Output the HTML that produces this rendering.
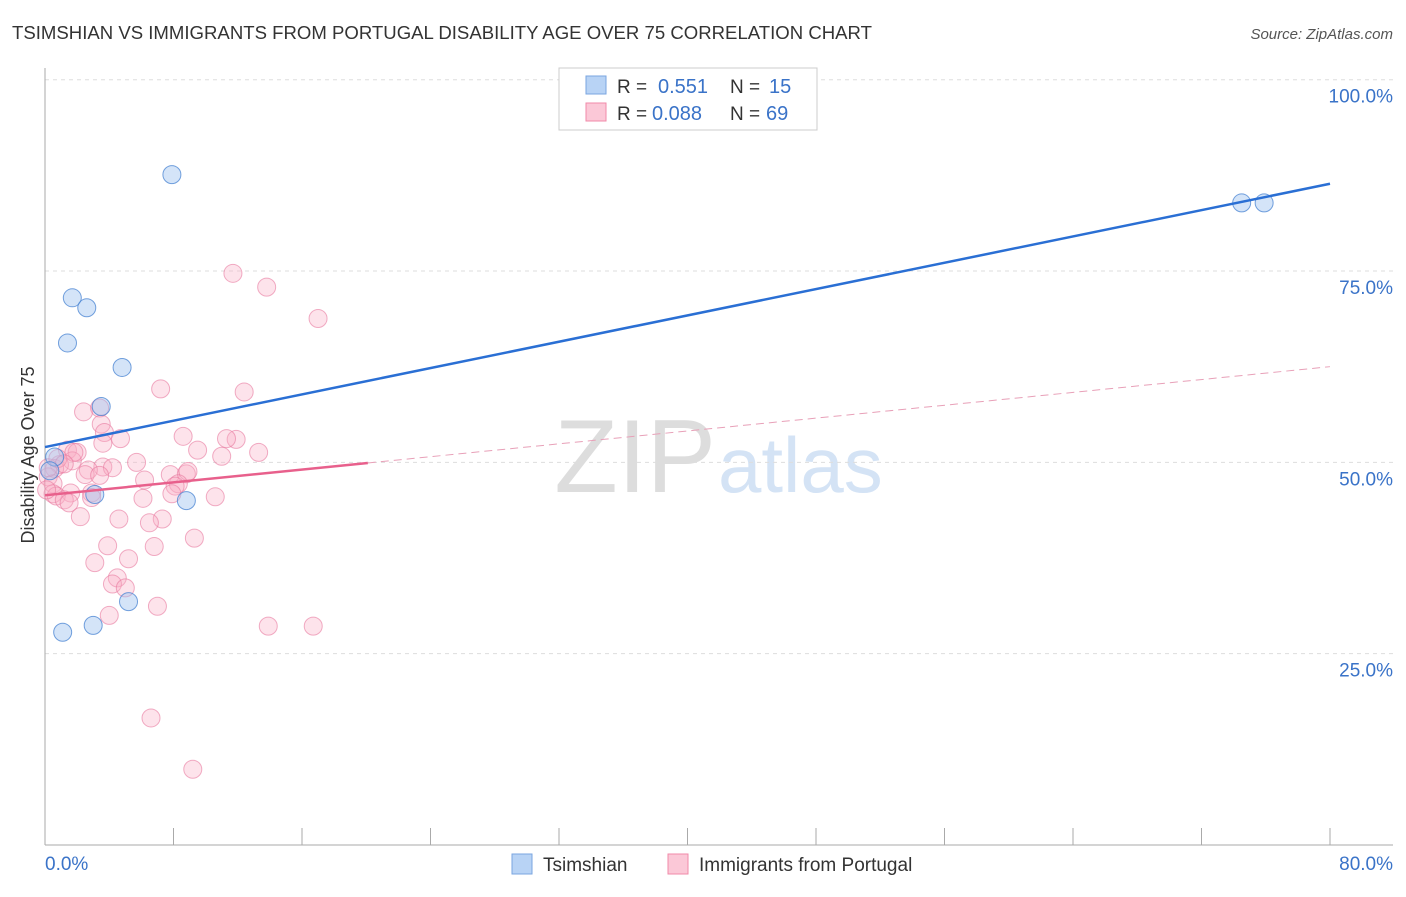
<!DOCTYPE html>
<html><head><meta charset="utf-8"><style>
body{margin:0;background:#fff;font-family:"Liberation Sans",sans-serif;}
svg text{font-family:"Liberation Sans",sans-serif;}
</style></head><body>
<svg id="c" width="1406" height="892" xmlns="http://www.w3.org/2000/svg">
<text x="12" y="39" font-size="18" fill="#333" textLength="860" lengthAdjust="spacingAndGlyphs">TSIMSHIAN VS IMMIGRANTS FROM PORTUGAL DISABILITY AGE OVER 75 CORRELATION CHART</text>
<text x="1393" y="39" font-size="15" fill="#555" font-style="italic" text-anchor="end">Source: ZipAtlas.com</text>
<text x="716" y="492" font-size="104" fill="#ddd" font-family="Liberation Serif" text-anchor="end">ZIP</text>
<text x="718" y="492" font-size="78" fill="#d4e3f5">atlas</text>
<g id="grid"></g>
<g id="axes"></g>
<g id="pink"></g>
<g id="blue"></g>
<g id="lines"></g>
<text transform="translate(34,455) rotate(-90)" font-size="18" fill="#333" text-anchor="middle">Disability Age Over 75</text>
<text x="45" y="870" font-size="19" fill="#3a73c8">0.0%</text>
<text x="1393" y="870" font-size="19" fill="#3a73c8" text-anchor="end">80.0%</text>
<g>
<rect x="559" y="68" width="258" height="62" fill="#fff" stroke="#ccc"/>
<rect x="586" y="76" width="20" height="18" fill="#b8d3f5" stroke="#7aa6e0"/>
<rect x="586" y="103" width="20" height="18" fill="#fbc8d7" stroke="#f08aa8"/>
<text x="617" y="93" font-size="19" fill="#333">R =</text>
<text x="658" y="93" font-size="20" fill="#3a73c8">0.551</text>
<text x="730" y="93" font-size="19" fill="#333">N =</text>
<text x="769" y="93" font-size="20" fill="#3a73c8">15</text>
<text x="617" y="120" font-size="19" fill="#333">R =</text>
<text x="652" y="120" font-size="20" fill="#3a73c8">0.088</text>
<text x="730" y="120" font-size="19" fill="#333">N =</text>
<text x="766" y="120" font-size="20" fill="#3a73c8">69</text>
</g>
<g>
<rect x="512" y="854" width="20" height="20" fill="#b8d3f5" stroke="#7aa6e0"/>
<text x="543" y="871" font-size="19" fill="#333">Tsimshian</text>
<rect x="668" y="854" width="20" height="20" fill="#fbc8d7" stroke="#f08aa8"/>
<text x="699" y="871" font-size="19" fill="#333">Immigrants from Portugal</text>
</g>
</svg>
<script>
const yTicks=[25,50,75,100];
const yTickLabels=["25.0%","50.0%","75.0%","100.0%"];
const blueX=[7.9,1.7,2.6,1.4,4.8,3.5,0.6,3.1,8.8,5.2,3.0,1.1,74.5,75.9,0.3];
const blueY=[87.6,71.5,70.2,65.6,62.4,57.3,50.7,45.8,45.0,31.8,28.7,27.8,83.9,83.9,48.9];
const pinkX=[11.7,13.8,17.0,7.2,12.4,2.4,3.4,3.5,3.7,4.7,8.6,11.9,11.3,13.3,9.5,11.0,1.4,2.0,1.7,5.7,3.6,4.2,2.7,0.9,0.6,0.2,0.5,2.5,3.4,6.2,7.8,8.8,8.9,8.3,8.1,7.9,2.9,2.9,1.6,0.5,0.7,1.2,1.5,6.1,10.6,2.2,4.6,7.3,6.5,9.3,3.9,6.8,5.2,3.1,4.5,4.2,5.0,4.0,7.0,13.9,16.7,6.6,9.2,0.2,0.8,1.8,3.6,0.1,1.2];
const pinkY=[74.7,72.9,68.8,59.6,59.2,56.6,57.1,55.0,53.9,53.1,53.4,53.0,53.1,51.3,51.6,50.8,51.6,51.3,50.2,50.0,49.4,49.3,49.0,49.7,49.2,48.1,47.2,48.4,48.3,47.7,48.4,48.5,48.8,47.2,46.9,45.9,46.0,45.4,46.0,45.9,45.6,45.1,44.7,45.3,45.5,42.9,42.6,42.6,42.1,40.1,39.1,39.0,37.4,36.9,34.9,34.1,33.6,30.0,31.2,28.6,28.6,16.6,9.9,49.3,50.5,51.3,52.5,46.4,49.8];
const blueFit=[52.0,86.4];
const pinkFit=[45.7,62.5];
const pinkSolidEnd=20.1;
const NS="http://www.w3.org/2000/svg";
const xs=v=>45+v*(1285/80);
const ys=v=>845-v*7.653;
function mk(tag,attrs,parent){const e=document.createElementNS(NS,tag);for(const k in attrs)e.setAttribute(k,attrs[k]);parent.appendChild(e);return e;}
const grid=document.getElementById('grid'),axes=document.getElementById('axes');
yTicks.forEach((t,i)=>{
 const l=mk('line',{x1:45,x2:1393,y1:ys(t),y2:ys(t),stroke:'#ddd','stroke-dasharray':'4,4'},grid);
 
 
 const tx=mk('text',{x:1393,y:ys(t)+23,'font-size':19,fill:'#3a73c8','text-anchor':'end'},grid);
 tx.textContent=yTickLabels[i];
 
 
});
const ya=mk('line',{x1:45,x2:45,y1:68,y2:845,stroke:'#aaa'},axes);


const xa=mk('line',{x1:45,x2:1393,y1:845,y2:845,stroke:'#aaa'},axes);


for(let i=0;i<=10;i++){const t=mk('line',{x1:xs(i*8),x2:xs(i*8),y1:828,y2:845,stroke:'#aaa'},axes);
 
 }
const pg=document.getElementById('pink');
pinkX.forEach((x,i)=>{const c=mk('circle',{cx:xs(x),cy:ys(pinkY[i]),r:9,fill:'rgba(248,175,198,0.35)',stroke:'rgba(232,120,158,0.6)','stroke-width':1},pg);
 
 });
const bg=document.getElementById('blue');
blueX.forEach((x,i)=>{const c=mk('circle',{cx:xs(x),cy:ys(blueY[i]),r:9,fill:'rgba(160,195,240,0.45)',stroke:'rgba(70,130,210,0.75)','stroke-width':1},bg);
 
 });
const lg=document.getElementById('lines');
const fy=(f,x)=>f[0]+(f[1]-f[0])*x/80;
const bl=mk('line',{x1:xs(0),y1:ys(blueFit[0]),x2:xs(80),y2:ys(blueFit[1]),stroke:'#2a6fd4','stroke-width':2.5},lg);


const ps=mk('line',{x1:xs(0),y1:ys(pinkFit[0]),x2:xs(pinkSolidEnd),y2:ys(fy(pinkFit,pinkSolidEnd)),stroke:'#e8608c','stroke-width':2.5},lg);


const pd=mk('line',{x1:xs(pinkSolidEnd),y1:ys(fy(pinkFit,pinkSolidEnd)),x2:xs(80),y2:ys(pinkFit[1]),stroke:'#e8a0b8','stroke-width':1,'stroke-dasharray':'8,5'},lg);


</script>
</body></html>
